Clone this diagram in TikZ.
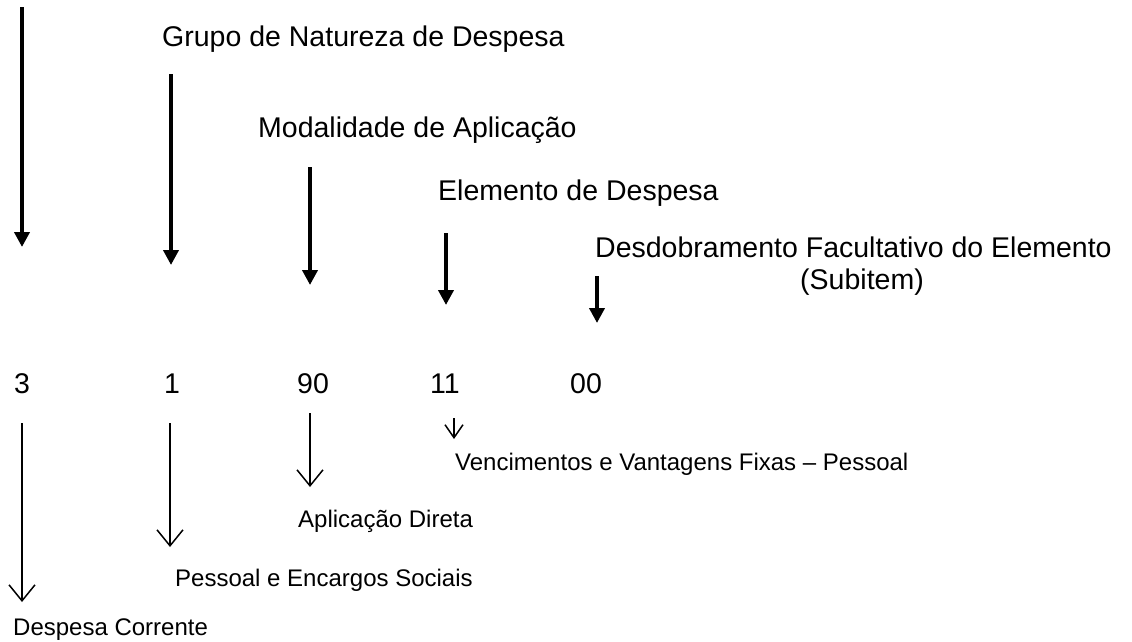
\documentclass[tikz,border=0pt]{standalone}
\usepackage{fontspec}
\setmainfont{Liberation Sans}
\usetikzlibrary{arrows.meta}
\tikzset{
  toplabel/.style={font=\fontsize{28.5}{32}\selectfont, inner sep=0pt, anchor=base west},
  numlabel/.style={font=\fontsize{28.5}{32}\selectfont, inner sep=0pt, anchor=base west},
  botlabel/.style={font=\fontsize{24}{28}\selectfont, inner sep=0pt, anchor=base west},
  thickarrow/.style={line width=4pt, -{Triangle[length=15pt, width=15pt]}},
  thinarrow/.style={line width=1.5pt, -{Straight Barb[length=16pt, width=26pt, line width=1.5pt]}},
  smallarrow/.style={line width=1.5pt, -{Straight Barb[length=13pt, width=18pt, line width=1.5pt]}}
}
\begin{document}
\begin{tikzpicture}[x=1pt, y=-1pt]
\useasboundingbox (0,0) rectangle (1132,641);
% top labels
\node[toplabel] (grupo) at (162,46) {Grupo de Natureza de Despesa};
\node[toplabel] (modal) at (258,137) {Modalidade de Aplicação};
\node[toplabel] (elem) at (438,200) {Elemento de Despesa};
\node[toplabel] (desd) at (595,257) {Desdobramento Facultativo do Elemento};
\node[font=\fontsize{28.5}{32}\selectfont, inner sep=0pt, anchor=base] (subitem) at (862,289) {(Subitem)};
% top arrows
\coordinate (t1s) at (22,7);   \coordinate (t1e) at (22,247);
\coordinate (t2s) at (171,74); \coordinate (t2e) at (171,265);
\coordinate (t3s) at (310,167);\coordinate (t3e) at (310,285);
\coordinate (t4s) at (446,233);\coordinate (t4e) at (446,305);
\coordinate (t5s) at (597,276);\coordinate (t5e) at (597,323);
\draw[thickarrow] (t1s) -- (t1e);
\draw[thickarrow] (t2s) -- (t2e);
\draw[thickarrow] (t3s) -- (t3e);
\draw[thickarrow] (t4s) -- (t4e);
\draw[thickarrow] (t5s) -- (t5e);
% numbers
\node[numlabel] (n3) at (14,393) {3};
\node[numlabel] (n1) at (164,393) {1};
\node[numlabel] (n90) at (297,393) {90};
\node[numlabel] (n11) at (430,393) {11};
\node[numlabel] (n00) at (570,393) {00};
% bottom arrows
\coordinate (b1s) at (22,423);  \coordinate (b1e) at (22,602);
\coordinate (b2s) at (170,423); \coordinate (b2e) at (170,547);
\coordinate (b3s) at (310,413); \coordinate (b3e) at (310,487);
\coordinate (b4s) at (454,418); \coordinate (b4e) at (454,439);
\draw[thinarrow] (b1s) -- (b1e);
\draw[thinarrow] (b2s) -- (b2e);
\draw[thinarrow] (b3s) -- (b3e);
\draw[smallarrow] (b4s) -- (b4e);
% bottom labels
\node[botlabel] (venc) at (455,470) {Vencimentos e Vantagens Fixas – Pessoal};
\node[botlabel] (aplic) at (298,527) {Aplicação Direta};
\node[botlabel] (pess) at (175,586) {Pessoal e Encargos Sociais};
\node[botlabel] (desp) at (13,635) {Despesa Corrente};
\end{tikzpicture}
\end{document}
